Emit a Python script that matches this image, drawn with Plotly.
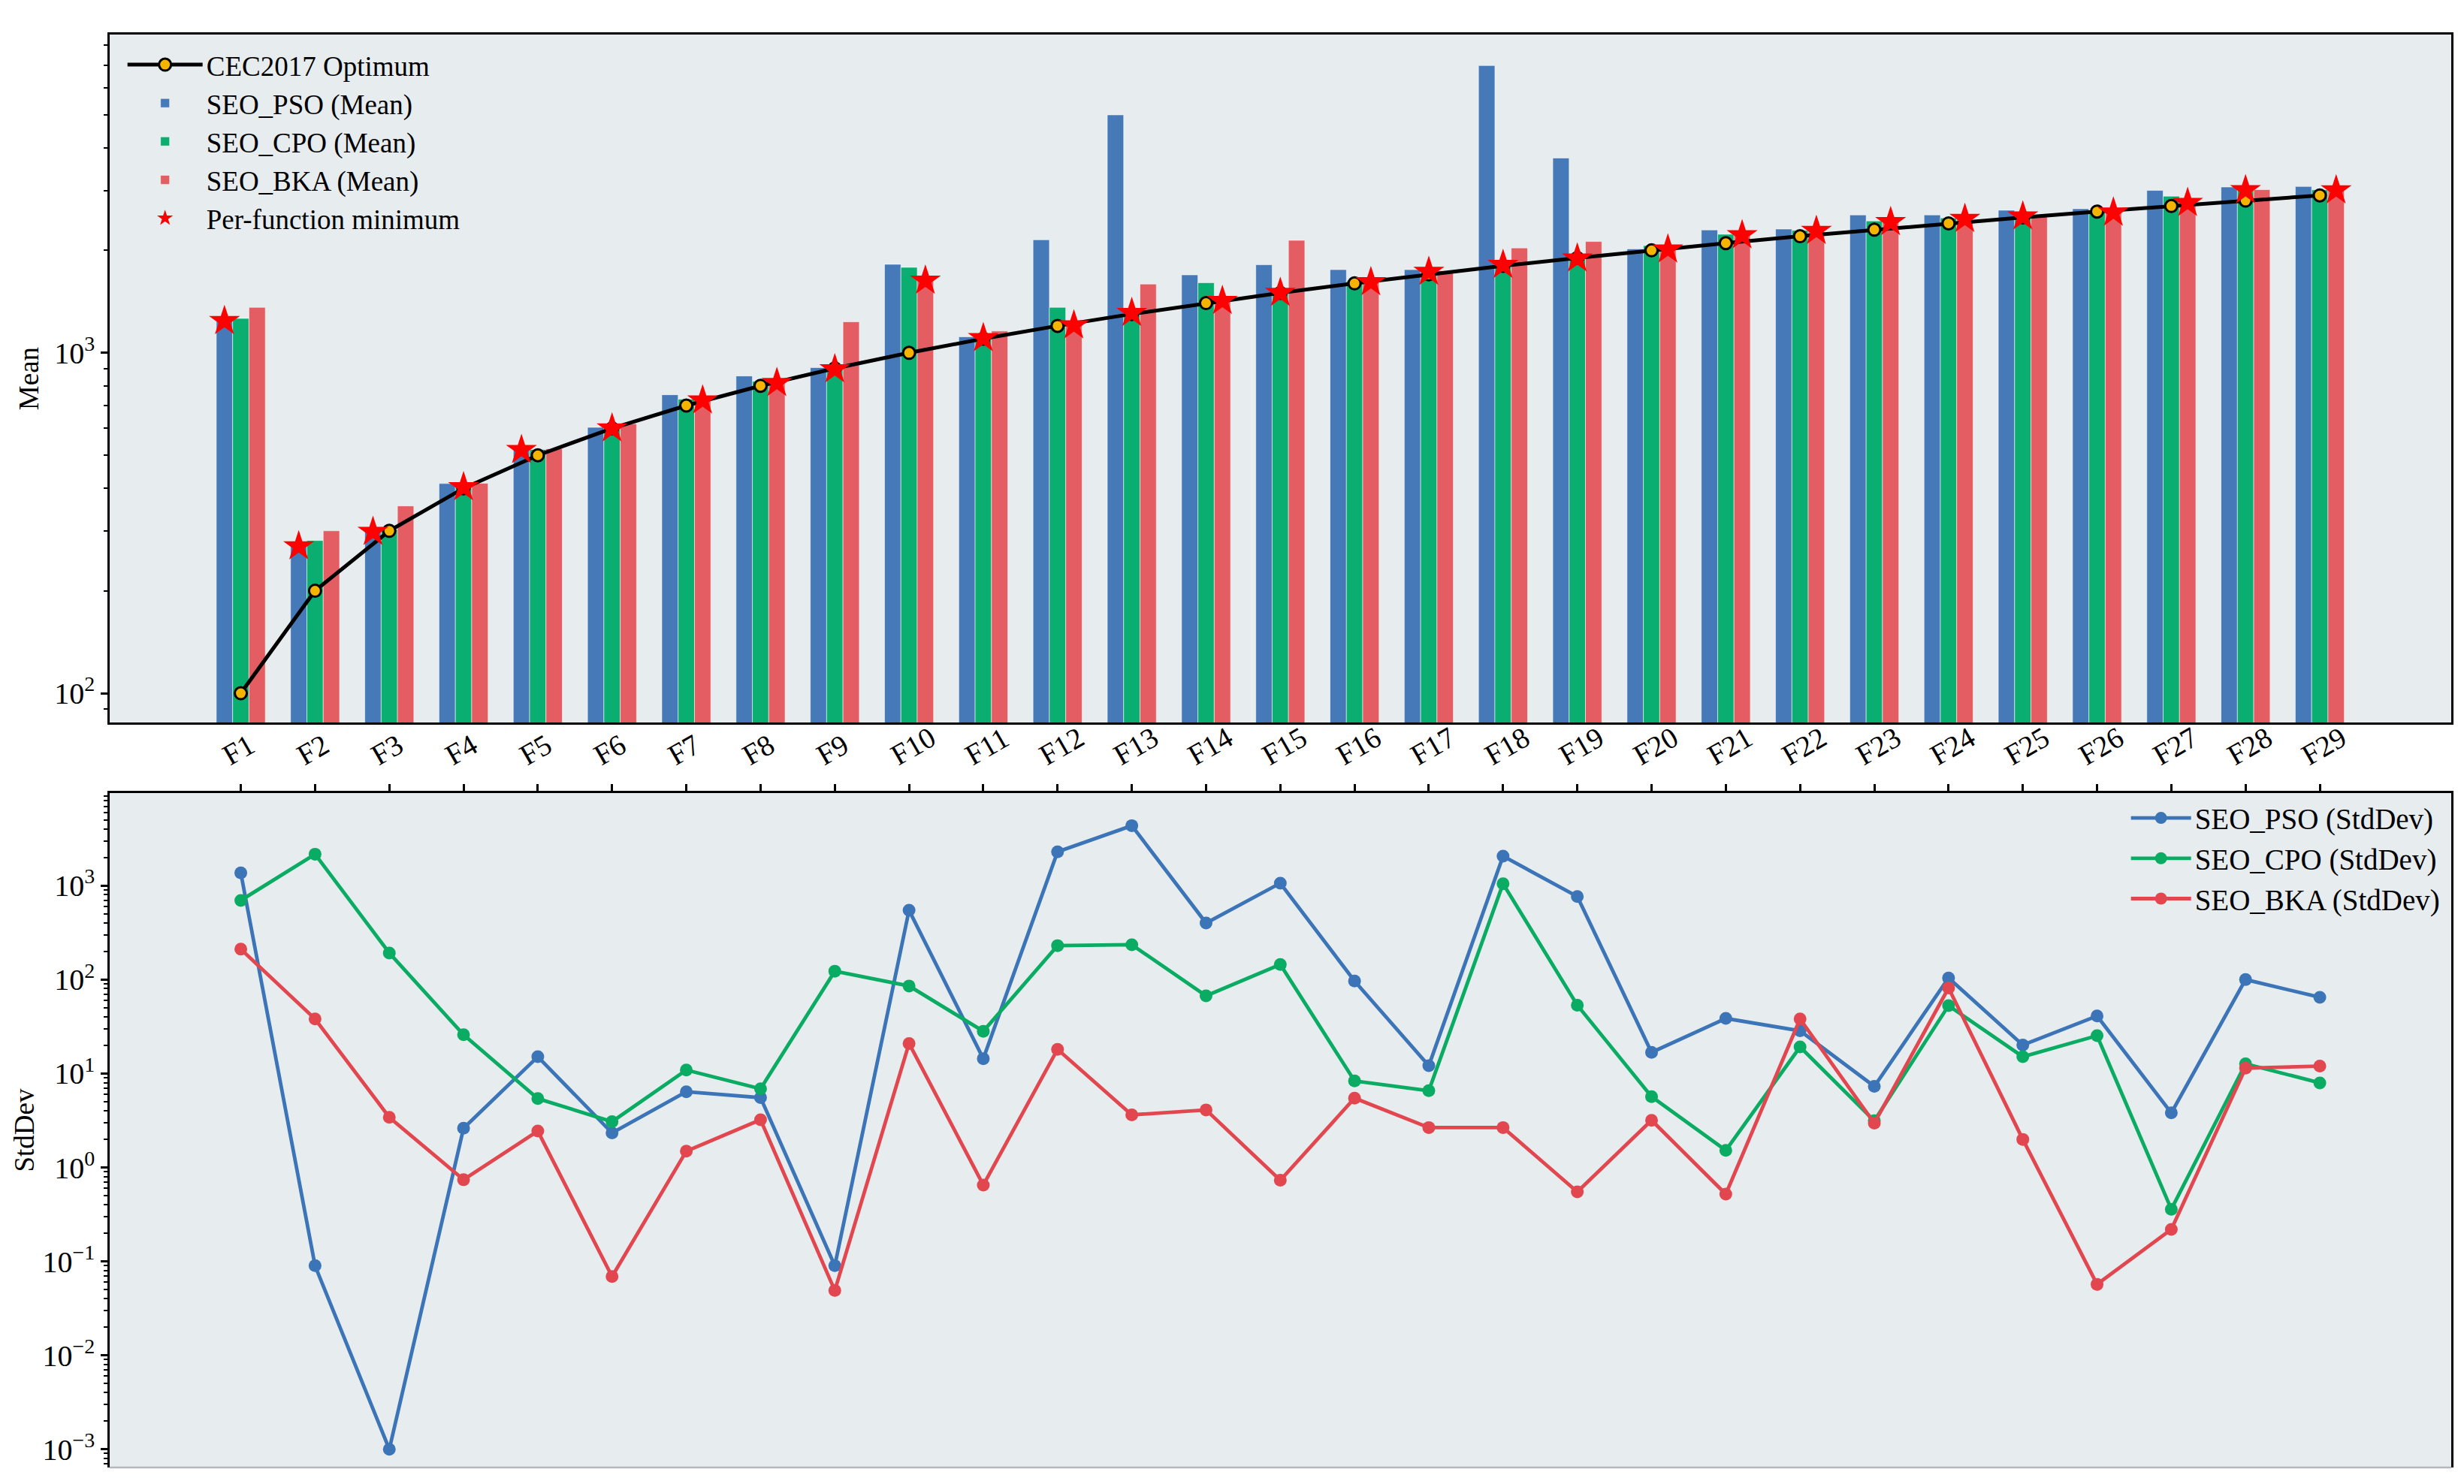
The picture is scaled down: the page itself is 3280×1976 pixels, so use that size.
import plotly.graph_objects as go

# ---------------- data ----------------
functions = ["F1", "F2", "F3", "F4", "F5", "F6", "F7", "F8", "F9", "F10",
             "F11", "F12", "F13", "F14", "F15", "F16", "F17", "F18", "F19", "F20",
             "F21", "F22", "F23", "F24", "F25", "F26", "F27", "F28", "F29"]

cec2017_optimum = [100, 200, 300, 400, 500, 600, 700, 800, 900, 1000,
                   1100, 1200, 1300, 1400, 1500, 1600, 1700, 1800, 1900, 2000,
                   2100, 2200, 2300, 2400, 2500, 2600, 2700, 2800, 2900]

pso_mean = [1240, 270, 298, 413, 518, 604, 753, 855, 905, 1820,
            1114, 2148, 5000, 1694, 1814, 1755, 1755, 6980, 3735, 2020,
            2296, 2310, 2541, 2541, 2624, 2650, 3000, 3070, 3080]
cpo_mean = [1262, 281, 303, 403, 520, 600, 731, 825, 895, 1783,
            1105, 1360, 1310, 1607, 1500, 1625, 1730, 1812, 1892, 2065,
            2230, 2290, 2440, 2490, 2515, 2592, 2885, 3005, 3012]
bka_mean = [1360, 300, 355, 414, 523, 619, 725, 815, 1233, 1630,
            1159, 1205, 1592, 1420, 2140, 1612, 1742, 2033, 2123, 2012,
            2215, 2280, 2422, 2475, 2530, 2582, 2755, 3015, 3000]

pso_std = [1368, 0.09, 0.001, 2.62, 15.1, 2.33, 6.4, 5.54, 0.09, 547,
           14.4, 2296, 4355, 400, 1063, 96.5, 12.1, 2061, 767, 16.8,
           38.6, 28.5, 7.3, 104, 20.1, 41, 3.81, 100, 64.8]
cpo_std = [697, 2163, 192, 25.9, 5.41, 3.07, 10.9, 6.88, 123, 85.5,
           28.2, 230, 235, 67.2, 145, 8.34, 6.56, 1050, 53.4, 5.67,
           1.52, 19.2, 3.14, 52.8, 15.1, 25.3, 0.359, 12.7, 7.95]
bka_std = [211, 38.1, 3.42, 0.74, 2.44, 0.069, 1.49, 3.22, 0.049, 20.9,
           0.65, 18.1, 3.63, 4.1, 0.73, 5.47, 2.66, 2.66, 0.55, 3.18,
           0.52, 38.1, 2.96, 81.5, 1.99, 0.057, 0.219, 11.4, 12.0]

# ---------------- style ----------------
BLUE = "#4579b8"
GREEN = "#0aae70"
RED = "#e35d62"
LBLUE = "#3c74b8"
LGREEN = "#0aab62"
LRED = "#e2474f"
PLOT_BG = "#e7ecef"
FONT = "Liberation Serif"
FS = 37
TFS = 40

BAR_W = 0.22
x_idx = list(range(len(functions)))

fig = go.Figure()

# optimum line (top)
fig.add_trace(go.Scatter(
    x=x_idx, y=cec2017_optimum, name="CEC2017 Optimum", mode="lines+markers",
    line=dict(color="black", width=5),
    marker=dict(symbol="circle", size=16, color="#f5b400", line=dict(color="black", width=3)),
    xaxis="x", yaxis="y", legend="legend"))

series_mean = [("SEO_PSO (Mean)", pso_mean, BLUE),
               ("SEO_CPO (Mean)", cpo_mean, GREEN),
               ("SEO_BKA (Mean)", bka_mean, RED)]
for name, vals, col in series_mean:
    fig.add_trace(go.Bar(
        x=x_idx, y=vals, name=name,
        marker=dict(color=col, line=dict(color="rgba(255,255,255,0.55)", width=1)),
        xaxis="x", yaxis="y", legend="legend"))

# per-function minimum stars, placed on the winning bar
star_x, star_y = [], []
for i in x_idx:
    trio = [pso_mean[i], cpo_mean[i], bka_mean[i]]
    k = trio.index(min(trio))
    star_x.append(i + (k - 1) * BAR_W)
    star_y.append(trio[k])
fig.add_trace(go.Scatter(
    x=star_x, y=star_y, name="Per-function minimum", mode="markers",
    marker=dict(symbol="star", size=31, color="#ff0000", line=dict(width=0)),
    xaxis="x", yaxis="y", legend="legend"))

# std lines (bottom)
series_std = [("SEO_PSO (StdDev)", pso_std, LBLUE),
              ("SEO_CPO (StdDev)", cpo_std, LGREEN),
              ("SEO_BKA (StdDev)", bka_std, LRED)]
for name, vals, col in series_std:
    fig.add_trace(go.Scatter(
        x=x_idx, y=vals, name=name, mode="lines+markers",
        line=dict(color=col, width=4.8),
        marker=dict(symbol="circle", size=17, color=col),
        xaxis="x2", yaxis="y2", legend="legend2"))

# ---------------- axes ----------------
def minor_ticks(lo, hi):
    out = []
    for e in range(lo, hi + 1):
        for m in range(2, 10):
            out.append(m * 10.0 ** e)
    return out

def sup(e):
    s = str(e).replace("-", "\u2212")
    return "10<sup>" + s + "</sup>"

exps1 = [2, 3]
exps2 = [-3, -2, -1, 0, 1, 2, 3]
min1 = minor_ticks(1, 3)
min2 = minor_ticks(-4, 3)

xrange_ = [-1.766, 29.77]

axis_common = dict(showgrid=False, zeroline=False, linecolor="black", linewidth=2.5,
                   tickcolor="black", tickwidth=2.5)
yfont = dict(family=FONT, size=TFS, color="black")

fig.update_layout(
    width=3280, height=1976,
    margin=dict(l=138, r=25, t=38, b=30),
    paper_bgcolor="white", plot_bgcolor=PLOT_BG,
    font=dict(family=FONT, size=FS, color="black"),
    barmode="group", bargap=1 - 3 * BAR_W, bargroupgap=0,
    xaxis=dict(domain=[0, 1], anchor="y", range=xrange_, showticklabels=False, ticks="",
               showline=True, mirror=True, **axis_common),
    yaxis=dict(domain=[0.5199, 1], anchor="x", type="log", range=[1.914, 3.935],
               tickvals=[10.0 ** e for e in exps1], ticktext=[sup(e) for e in exps1],
               tickfont=yfont,
               ticks="outside", ticklen=9, showline=True, mirror=True,
               minor=dict(tickvals=min1, ticks="outside", ticklen=5, tickcolor="black", tickwidth=2),
               title=dict(text="Mean", font=dict(family=FONT, size=FS), standoff=10),
               **axis_common),
    xaxis2=dict(domain=[0, 1], anchor="y2", range=xrange_, side="top",
                tickvals=x_idx, ticktext=functions, tickangle=-30,
                tickfont=dict(family=FONT, size=39, color="black"),
                ticks="outside", ticklen=9, showline=True, mirror=False,
                ticklabelshift=-24, ticklabelstandoff=6,
                **axis_common),
    yaxis2=dict(domain=[0, 0.4706], anchor="x2", type="log", range=[-3.194, 3.985],
                tickvals=[10.0 ** e for e in exps2], ticktext=[sup(e) for e in exps2],
                tickfont=yfont,
                ticks="outside", ticklen=9, showline=True, mirror=True,
                minor=dict(tickvals=min2, ticks="outside", ticklen=5, tickcolor="black", tickwidth=2),
                title=dict(text="StdDev", font=dict(family=FONT, size=FS), standoff=0),
                **axis_common),
    legend=dict(x=0.006, y=0.995, xanchor="left", yanchor="top",
                bgcolor="rgba(0,0,0,0)", font=dict(family=FONT, size=FS),
                itemwidth=100, tracegroupgap=4),
    legend2=dict(x=0.997, y=0.470, xanchor="right", yanchor="top",
                 bgcolor="rgba(0,0,0,0)", font=dict(family=FONT, size=39),
                 itemwidth=80),
    showlegend=True,
    shapes=[dict(type="line", xref="x2 domain", yref="y2 domain", x0=0, x1=1, y0=0, y1=0,
                 line=dict(color="#b5b8ba", width=2.5))],
)

fig.write_html("out.html")
